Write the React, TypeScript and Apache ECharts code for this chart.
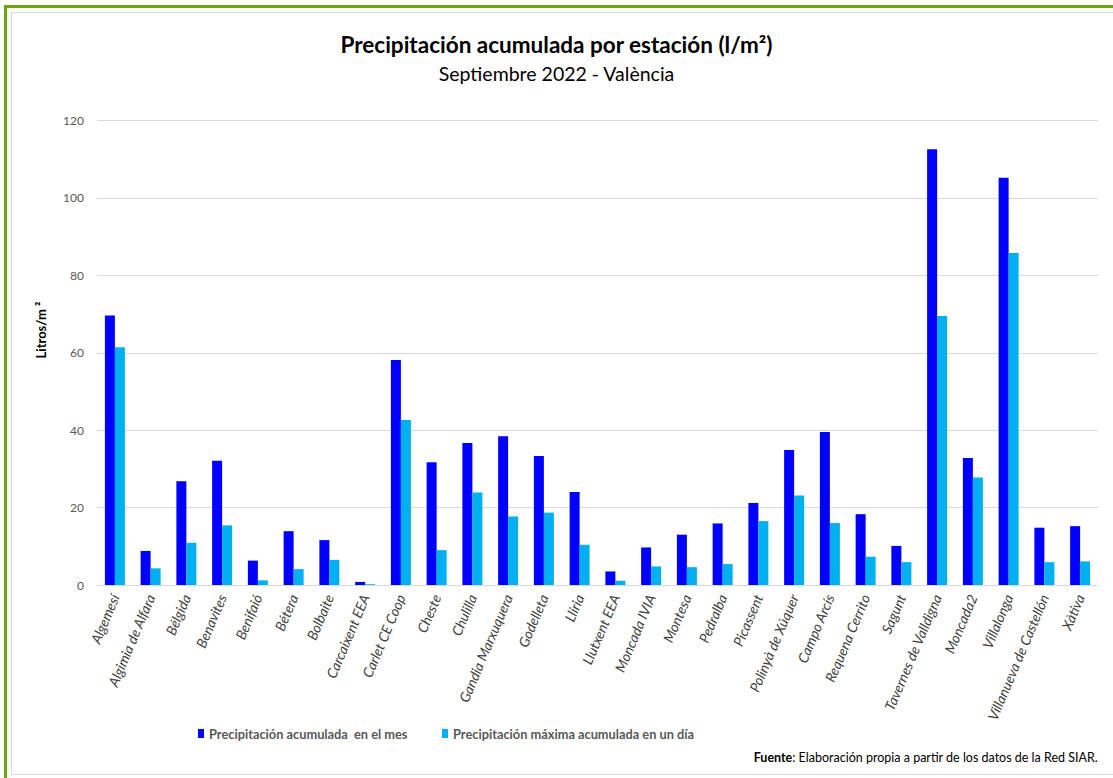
import React, { useEffect, useRef } from "react";
import * as echarts from "echarts";

const stations = [
  "Algemesí", "Algimia de Alfara", "Bélgida", "Benavites", "Benifaió", "Bétera", "Bolbaite",
  "Carcaixent EEA", "Carlet CE Coop", "Cheste", "Chulilla", "Gandia Marxuquera", "Godelleta",
  "Llíria", "Llutxent EEA", "Moncada IVIA", "Montesa", "Pedralba", "Picassent", "Polinyà de Xúquer",
  "Campo Arcís", "Requena Cerrito", "Sagunt", "Tavernes de Valldigna", "Moncada2", "Villalonga",
  "Villanueva de Castellón", "Xàtiva",
];

const monthTotal = [
  69.6, 8.8, 26.8, 32.1, 6.3, 13.9, 11.6, 0.8, 58.1, 31.7, 36.7, 38.4, 33.3, 24.0, 3.5, 9.7, 13.0,
  15.9, 21.2, 34.9, 39.5, 18.3, 10.1, 112.6, 32.8, 105.2, 14.8, 15.2,
];

const dayMax = [
  61.4, 4.3, 10.9, 15.4, 1.2, 4.1, 6.5, 0.2, 42.6, 9.0, 23.9, 17.7, 18.7, 10.4, 1.1, 4.8, 4.6,
  5.4, 16.5, 23.1, 16.0, 7.3, 5.9, 69.5, 27.8, 85.8, 5.9, 6.1,
];

const seriesNames = [
  "Precipitación acumulada  en el mes",
  "Precipitación máxima acumulada en un día",
];

const yTicks = [0, 20, 40, 60, 80, 100, 120];

const FONT = "Lato, 'Open Sans', sans-serif";

export default function App() {
  const ref = useRef<HTMLDivElement>(null);
  useEffect(() => {
    if (!ref.current) return;
    const chart = echarts.init(ref.current, null, { renderer: "svg" });
    chart.setOption({
      animation: false,
      backgroundColor: "#ffffff",
      textStyle: { fontFamily: FONT },
      title: [
        {
          text: "Precipitación acumulada por estación (l/m²)",
          left: "center",
          top: 28,
          textStyle: { fontFamily: FONT, fontSize: 22.5, fontWeight: "bold", color: "#000" },
        },
        {
          text: "Septiembre 2022 - València",
          left: "center",
          top: 58,
          textStyle: { fontFamily: FONT, fontSize: 19.5, fontWeight: "normal", color: "#000" },
        },
      ],
      grid: { left: 97, right: 15, top: 120.5, bottom: 193, containLabel: false },
      legend: [
        {
          data: [seriesNames[0]],
          left: 193,
          top: 722,
          itemWidth: 6,
          itemHeight: 9,
          icon: "rect",
          textStyle: { fontFamily: FONT, fontSize: 12.8, fontWeight: "bold", color: "#595959" },
        },
        {
          data: [seriesNames[1]],
          left: 437,
          top: 722,
          itemWidth: 6,
          itemHeight: 9,
          icon: "rect",
          textStyle: { fontFamily: FONT, fontSize: 12.8, fontWeight: "bold", color: "#595959" },
        },
      ],
      xAxis: {
        type: "category",
        data: stations,
        axisLine: { lineStyle: { color: "#d9d9d9", width: 1 } },
        axisTick: { show: false },
        axisLabel: {
          rotate: 67,
          interval: 0,
          margin: 10,
          fontFamily: FONT,
          fontSize: 14,
          fontStyle: "italic",
          color: "#404040",
        },
      },
      yAxis: {
        type: "value",
        min: yTicks[0],
        max: yTicks[yTicks.length - 1],
        interval: 20,
        axisLine: { show: false },
        axisTick: { show: false },
        axisLabel: { fontFamily: FONT, fontSize: 12, color: "#595959", margin: 13 },
        splitLine: { lineStyle: { color: "#d9d9d9", width: 1 } },
      },
      series: [
        {
          name: seriesNames[0],
          type: "bar",
          data: monthTotal,
          barWidth: 10,
          barGap: "0%",
          itemStyle: { color: "#0000ff" },
        },
        {
          name: seriesNames[1],
          type: "bar",
          data: dayMax,
          barWidth: 10,
          barGap: "0%",
          itemStyle: { color: "#00b0f0" },
        },
      ],
      graphic: [
        { type: "rect", shape: { x: 4, y: 5, width: 3, height: 773 }, style: { fill: "#6aa60f" }, silent: true },
        { type: "rect", shape: { x: 4, y: 5, width: 1109, height: 3 }, style: { fill: "#6aa60f" }, silent: true },
        { type: "rect", shape: { x: 11, y: 12, width: 1, height: 762 }, style: { fill: "#d9d9d9" }, silent: true },
        { type: "rect", shape: { x: 11, y: 12, width: 1102, height: 1 }, style: { fill: "#d9d9d9" }, silent: true },
        { type: "rect", shape: { x: 11, y: 774, width: 1102, height: 1 }, style: { fill: "#d9d9d9" }, silent: true },
        {
          type: "text",
          x: 41,
          y: 330,
          rotation: Math.PI / 2,
          style: {
            text: "Litros/m ²",
            fontFamily: FONT,
            fontSize: 13,
            fontWeight: "bold",
            fill: "#000",
            align: "center",
            verticalAlign: "middle",
          },
        },
        {
          type: "text",
          right: 15,
          top: 751,
          style: {
            text: "{b|Fuente}: Elaboración propia a partir de los datos de la Red SIAR.",
            fontFamily: FONT,
            fontSize: 12.5,
            fill: "#000",
            rich: {
              b: { fontFamily: FONT, fontSize: 12.5, fontWeight: "bold", fill: "#000" },
            },
          },
        },
      ],
    });
    return () => chart.dispose();
  }, []);
  return (
    <div
      ref={ref}
      style={{ position: "fixed", left: 0, top: 0, width: 1113, height: 778, background: "#fff" }}
    />
  );
}
